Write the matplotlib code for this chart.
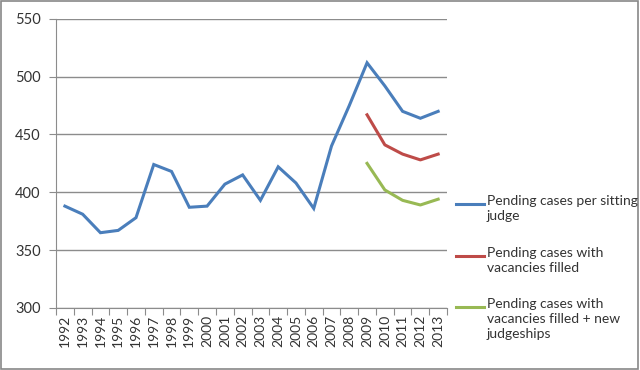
import numpy as np
import matplotlib.pyplot as plt
from matplotlib.lines import Line2D
from matplotlib.patches import Rectangle

years = list(range(1992, 2014))
per_judge = [388, 381, 365, 367, 378, 424, 418, 387, 388, 407, 415, 393,
             422, 408, 386, 440, 475, 512, 492, 470, 464, 470]
fill_years = [2009, 2010, 2011, 2012, 2013]
vac_filled = [467, 441, 433, 428, 433]
vac_new = [425, 402, 393, 389, 394]

labels = ["Pending cases per sitting\njudge",
          "Pending cases with\nvacancies filled",
          "Pending cases with\nvacancies filled + new\njudgeships"]
colors = ["#4A7EBB", "#BE4B48", "#98B954"]

plt.rcParams['font.family'] = ['Lato', 'DejaVu Sans']

fig = plt.figure(figsize=(6.4, 3.7), dpi=100)
ax = fig.add_axes([0.0875, 0.168, 0.611, 0.781])

idx = {y: i for i, y in enumerate(years)}
x_all = np.arange(len(years))
x_fill = [idx[y] for y in fill_years]

ax.plot(x_all, per_judge, color=colors[0], lw=2.2, solid_joinstyle='miter')
ax.plot(x_fill, vac_filled, color=colors[1], lw=2.2)
ax.plot(x_fill, vac_new, color=colors[2], lw=2.2)

ax.set_xlim(-0.5, len(years) - 0.5)
ax.set_ylim(300, 550)
ax.set_yticks(range(300, 551, 50))
ax.yaxis.grid(True, color='#8c8c8c', lw=1)
ax.set_axisbelow(True)

# category ticks at boundaries, labels at centres
ax.set_xticks(np.arange(-0.5, len(years), 1.0))
ax.set_xticklabels([])
ax.set_xticks(x_all, minor=True)
ax.set_xticklabels([str(y) for y in years], minor=True, rotation=90,
                   fontsize=10, color='#333333')
ax.tick_params(axis='x', which='minor', length=0, pad=5)
ax.tick_params(axis='x', which='major', length=5, color='#8c8c8c', direction='out')
ax.tick_params(axis='y', length=5, color='#8c8c8c', labelsize=10.5,
               labelcolor='#333333', pad=6)

for s in ['top', 'right']:
    ax.spines[s].set_visible(False)
for s in ['left', 'bottom']:
    ax.spines[s].set_color('#8c8c8c')

# legend drawn at the right, handle aligned with first text line
leg_y = [204, 256, 307]
for c, lab, yp in zip(colors, labels, leg_y):
    yf = 1 - yp / 370
    fig.add_artist(Line2D([456 / 640, 484 / 640], [yf, yf], color=c, lw=2.2))
    fig.text(487 / 640, yf + 9 / 370, lab, fontsize=10, va='top', ha='left',
             color='#333333', linespacing=1.3)

fig.add_artist(Rectangle((0.002, 0.003), 0.995, 0.994, transform=fig.transFigure,
                         fill=False, edgecolor='#888888', lw=1.2))

fig.savefig("out.png", dpi=100)
